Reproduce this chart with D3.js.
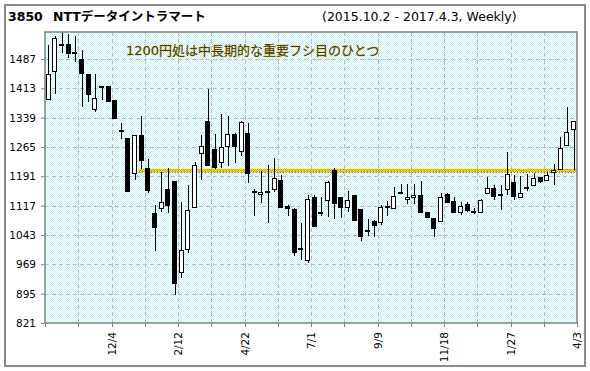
<!DOCTYPE html>
<html><head><meta charset="utf-8">
<script src="https://cdn.jsdelivr.net/npm/d3@7"></script>
<style>body{margin:0;background:#fff}svg{display:block}</style>
</head><body>
<svg id="c" width="590" height="371"></svg>
<script>
const dates = [
"2015-10-02","2015-10-09","2015-10-16","2015-10-23","2015-10-30","2015-11-06","2015-11-13","2015-11-20","2015-11-27","2015-12-04",
"2015-12-11","2015-12-18","2015-12-25","2016-01-01","2016-01-08","2016-01-15","2016-01-22","2016-01-29","2016-02-05","2016-02-12",
"2016-02-19","2016-02-26","2016-03-04","2016-03-11","2016-03-18","2016-03-25","2016-04-01","2016-04-08","2016-04-15","2016-04-22",
"2016-04-29","2016-05-06","2016-05-13","2016-05-20","2016-05-27","2016-06-03","2016-06-10","2016-06-17","2016-06-24","2016-07-01",
"2016-07-08","2016-07-15","2016-07-22","2016-07-29","2016-08-05","2016-08-12","2016-08-19","2016-08-26","2016-09-02","2016-09-09",
"2016-09-16","2016-09-23","2016-09-30","2016-10-07","2016-10-14","2016-10-21","2016-10-28","2016-11-04","2016-11-11","2016-11-18",
"2016-11-25","2016-12-02","2016-12-09","2016-12-16","2016-12-23","2016-12-30","2017-01-06","2017-01-13","2017-01-20","2017-01-27",
"2017-02-03","2017-02-10","2017-02-17","2017-02-24","2017-03-03","2017-03-10","2017-03-17","2017-03-24","2017-03-31","2017-04-03"];
const open = [
1385,1455,1524,1524,1505,1487,1449,1360,1420,1419,
1384,1309,1287,1200,1295,1211,1098,1111,1159,1180,
951,1007,1115,1251,1331,1259,1227,1268,1298,1255,
1301,1155,1146,1155,1157,1182,1116,1109,1010,980,
1138,1102,1130,1207,1138,1113,1144,1109,1055,1079,
1075,1116,1111,1152,1133,1138,1144,1100,1086,1077,
1146,1129,1101,1122,1103,1101,1148,1161,1147,1157,
1176,1138,1164,1171,1189,1182,1200,1211,1270,1312];
const high = [
1522,1545,1560,1550,1545,1510,1449,1449,1420,1419,
1384,1325,1287,1295,1343,1234,1119,1203,1211,1180,
1127,1169,1226,1295,1411,1298,1348,1343,1300,1330,
1326,1160,1205,1220,1237,1195,1119,1110,1073,1144,
1144,1140,1178,1212,1139,1154,1144,1109,1083,1082,
1119,1129,1164,1172,1172,1172,1180,1100,1086,1150,
1150,1140,1127,1127,1112,1134,1190,1169,1169,1252,
1195,1192,1197,1199,1190,1203,1222,1289,1367,1331];
const low = [
1384,1398,1503,1489,1480,1365,1379,1354,1384,1379,
1335,1285,1153,1181,1209,1150,1003,1100,1098,892,
934,997,1113,1182,1218,1210,1211,1217,1224,1242,
1175,1090,1123,1073,1152,1111,1091,990,980,972,
1063,1092,1089,1083,1085,1101,1080,1029,1041,1037,
1067,1092,1109,1149,1121,1121,1099,1086,1037,1076,
1125,1098,1093,1100,1096,1100,1148,1132,1106,1143,
1132,1136,1153,1169,1175,1180,1169,1211,1269,1207];
const close = [
1449,1539,1522,1501,1503,1451,1398,1388,1418,1382,
1338,1307,1153,1295,1231,1155,1062,1127,1119,922,
1006,1106,1220,1268,1220,1213,1264,1298,1268,1327,
1199,1153,1151,1153,1186,1115,1112,1001,1007,1133,
1064,1100,1176,1123,1113,1130,1081,1042,1053,1070,
1113,1114,1142,1150,1138,1144,1100,1087,1062,1138,
1126,1100,1117,1108,1101,1132,1161,1142,1145,1196,
1140,1149,1163,1188,1180,1195,1206,1263,1302,1331];
const yTicks = [821,895,969,1043,1117,1191,1265,1339,1413,1487];
const xTickLabels = ["12/4","2/12","4/22","7/1","9/9","11/18","1/27","4/3"];
const xTickDates = ["2015-12-04","2016-02-12","2016-04-22","2016-07-01","2016-09-09","2016-11-18","2017-01-27","2017-04-03"];
const supportLevel = 1206;
const supportFrom = "2016-01-08";
const titleCode = "3850";
const titleName = "NTTデータイントラマート";
const subtitle = "(2015.10.2 - 2017.4.3, Weekly)";
const note = "1200円処は中長期的な重要フシ目のひとつ";

const svg = d3.select("#c");
const L = 45, R = 577, T = 32, B = 323;
const font = "'DejaVu Sans','Noto Sans CJK JP',sans-serif";

const x = d3.scaleBand().domain(dates).range([L, R]).paddingInner(0.2).paddingOuter(0.1);
const step = x.step();
const y = d3.scaleLinear().domain([821, 1555]).range([B, T]);

const defs = svg.append("defs");
const pat = defs.append("pattern").attr("id","bg").attr("width",2).attr("height",2).attr("patternUnits","userSpaceOnUse");
pat.append("rect").attr("width",2).attr("height",2).attr("fill","#ffffff");
pat.append("rect").attr("width",1).attr("height",1).attr("fill","#c6f3f5");
pat.append("rect").attr("x",1).attr("y",1).attr("width",1).attr("height",1).attr("fill","#c6f3f5");
const chk = defs.append("pattern").attr("id","chk").attr("width",2).attr("height",2).attr("patternUnits","userSpaceOnUse");
chk.append("rect").attr("width",2).attr("height",2).attr("fill","#ffe400");
chk.append("rect").attr("width",1).attr("height",1).attr("fill","#c8a400");
chk.append("rect").attr("x",1).attr("y",1).attr("width",1).attr("height",1).attr("fill","#c8a400");
defs.append("clipPath").attr("id","clip").append("rect").attr("x",L).attr("y",T).attr("width",R-L).attr("height",B-T);

// outer frame
svg.append("rect").attr("x",5).attr("y",5).attr("width",580).attr("height",361)
  .attr("fill","#fff").attr("stroke","#8a8a8a").attr("stroke-width",2);

// plot background
svg.append("rect").attr("x",L).attr("y",T).attr("width",R-L).attr("height",B-T).attr("fill","url(#bg)");

// grid
const grid = svg.append("g").attr("stroke","#bdbdbd").attr("stroke-width",1).attr("stroke-dasharray","4,3").attr("shape-rendering","crispEdges");
yTicks.forEach(v => {
  if (v === 821) return;
  grid.append("line").attr("x1",L).attr("x2",R).attr("y1",Math.round(y(v))+0.5).attr("y2",Math.round(y(v))+0.5);
});
const gridX = [];
for (let i = 4; i < dates.length - 1; i += 5) gridX.push(x(dates[i]) + x.bandwidth() + step * 0.1);
gridX.forEach(gx => grid.append("line").attr("x1",Math.round(gx)+0.5).attr("x2",Math.round(gx)+0.5).attr("y1",T).attr("y2",B));

// support line
const sx = x(supportFrom);
svg.append("rect").attr("x",sx).attr("y",y(supportLevel)-1.5).attr("width",R - sx).attr("height",3).attr("fill","url(#chk)");
svg.append("line").attr("x1",sx).attr("x2",R).attr("y1",y(supportLevel)+2).attr("y2",y(supportLevel)+2)
  .attr("stroke","#333").attr("stroke-width",1).attr("stroke-dasharray","1,2");

// candles
const data = dates.map((d,i)=>({d, o:open[i], h:high[i], l:low[i], c:close[i]}));
const cg = svg.append("g").attr("clip-path","url(#clip)").attr("shape-rendering","crispEdges");
const bw = x.bandwidth();
cg.selectAll("line.w").data(data).join("line")
  .attr("x1", d => Math.round(x(d.d) + bw/2) + 0.5).attr("x2", d => Math.round(x(d.d) + bw/2) + 0.5)
  .attr("y1", d => y(d.h)).attr("y2", d => y(d.l))
  .attr("stroke","#000").attr("stroke-width",1);
cg.selectAll("rect.b").data(data).join("rect")
  .attr("x", d => Math.round(x(d.d)) + 0.5)
  .attr("width", Math.round(bw) - 1)
  .attr("y", d => Math.round(y(Math.max(d.o,d.c))) + 0.5)
  .attr("height", d => Math.max(1, Math.round(Math.abs(y(d.o) - y(d.c)))))
  .attr("fill", d => d.c > d.o ? "#fff" : "#000")
  .attr("stroke","#000").attr("stroke-width",1);

// plot border
svg.append("rect").attr("x",L).attr("y",T).attr("width",R-L).attr("height",B-T)
  .attr("fill","none").attr("stroke","#808080").attr("stroke-width",1.5);

// y axis
const ya = svg.append("g").attr("transform",`translate(${L},0)`)
  .call(d3.axisLeft(y).tickValues(yTicks).tickSize(4).tickPadding(5).tickFormat(d3.format("d")));
ya.select(".domain").remove();
ya.selectAll("line").attr("stroke","#808080");
ya.selectAll("text").attr("font-family",font).attr("font-size","10.5px").attr("fill","#000");

// x ticks
const xt = svg.append("g").attr("stroke","#808080").attr("shape-rendering","crispEdges");
[L].concat(gridX).concat([R]).forEach(gx => xt.append("line").attr("x1",Math.round(gx)+0.5).attr("x2",Math.round(gx)+0.5).attr("y1",B).attr("y2",B+4));
xTickLabels.forEach((lab,k) => {
  const gx = x(xTickDates[k]) + bw + step*0.1;
  svg.append("text").attr("transform",`translate(${gx+4},${B+9}) rotate(-90)`)
    .attr("text-anchor","end").attr("font-family",font).attr("font-size","10.5px").attr("fill","#000").text(lab);
});

// titles
const t = svg.append("text").attr("x",8).attr("y",21).attr("font-family",font).attr("font-weight","bold").attr("font-size","12.5px").attr("fill","#000");
t.append("tspan").text(titleCode);
t.append("tspan").attr("x",53).text(titleName);
svg.append("text").attr("x",322).attr("y",21).attr("font-family",font).attr("font-size","12.5px").attr("fill","#000").text(subtitle);
svg.append("text").attr("x",126).attr("y",55).attr("font-family",font).attr("font-size","13px")
  .attr("fill","#4e4000").attr("stroke","#b89a00").attr("stroke-width",0.35).attr("paint-order","stroke").text(note);
</script>
</body></html>
